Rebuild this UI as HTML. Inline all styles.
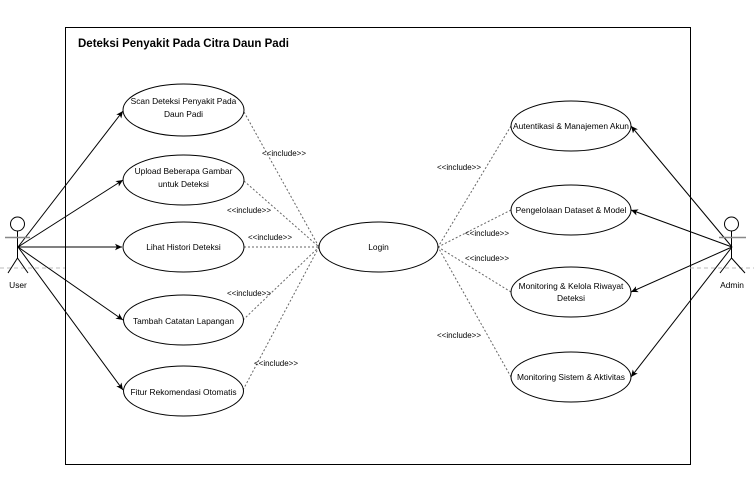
<!DOCTYPE html>
<html><head><meta charset="utf-8"><style>
html,body{margin:0;padding:0;background:#fff;}
svg{display:block;font-family:"Liberation Sans",sans-serif;}
</style></head><body>
<svg width="754" height="478" viewBox="0 0 754 478" xmlns="http://www.w3.org/2000/svg">
<defs>
<marker id="a" markerWidth="8" markerHeight="8" refX="7" refY="4" orient="auto" markerUnits="userSpaceOnUse">
<path d="M0,0.8 L7,4 L0,7.2 L1.8,4 Z" fill="#000"/></marker>
</defs>
<rect width="754" height="478" fill="#fff"/>
<rect x="65.5" y="27.5" width="625" height="437" fill="none" stroke="#000" stroke-width="1"/>
<text x="78" y="47" font-size="11.5" font-weight="bold">Deteksi Penyakit Pada Citra Daun Padi</text>
<line x1="0" y1="268" x2="65" y2="268" stroke="#bbb" stroke-dasharray="4 3"/>
<line x1="690" y1="268" x2="754" y2="268" stroke="#bbb" stroke-dasharray="4 3"/>
<g stroke="#000" fill="none">
<line x1="18" y1="247" x2="123" y2="111" marker-end="url(#a)"/>
<line x1="18" y1="247" x2="123" y2="180" marker-end="url(#a)"/>
<line x1="18" y1="247" x2="122" y2="247" marker-end="url(#a)"/>
<line x1="18" y1="247" x2="123" y2="320" marker-end="url(#a)"/>
<line x1="18" y1="247" x2="123" y2="390" marker-end="url(#a)"/>
<line x1="732" y1="247" x2="631" y2="126" marker-end="url(#a)"/>
<line x1="732" y1="247" x2="631" y2="210" marker-end="url(#a)"/>
<line x1="732" y1="247" x2="631" y2="292" marker-end="url(#a)"/>
<line x1="732" y1="247" x2="631" y2="377" marker-end="url(#a)"/>
</g>
<g stroke="#666" stroke-dasharray="2 2" fill="none">
<line x1="244" y1="112" x2="319" y2="247"/>
<line x1="244" y1="181" x2="319" y2="247"/>
<line x1="244" y1="247" x2="319" y2="247"/>
<line x1="243" y1="320" x2="319" y2="247"/>
<line x1="243" y1="390" x2="319" y2="247"/>
<line x1="511" y1="126" x2="438" y2="247"/>
<line x1="511" y1="210" x2="438" y2="247"/>
<line x1="511" y1="292" x2="438" y2="247"/>
<line x1="511" y1="377" x2="438" y2="247"/>
</g>
<g stroke="#000" fill="#fff">
<ellipse cx="183.5" cy="110" rx="60.5" ry="26"/>
<ellipse cx="183.5" cy="180" rx="60.5" ry="25"/>
<ellipse cx="183.5" cy="247" rx="60.5" ry="25"/>
<ellipse cx="183.5" cy="320" rx="60" ry="25"/>
<ellipse cx="183.5" cy="391" rx="60" ry="25"/>
<ellipse cx="378.5" cy="247" rx="59.5" ry="25"/>
<ellipse cx="571" cy="126" rx="60" ry="25"/>
<ellipse cx="571" cy="210" rx="60" ry="25"/>
<ellipse cx="571" cy="292" rx="60" ry="25"/>
<ellipse cx="571" cy="377" rx="60" ry="25"/>
</g>
<g font-size="8.4" text-anchor="middle" fill="#000">
<text x="183.5" y="104">Scan Deteksi Penyakit Pada</text>
<text x="183.5" y="117">Daun Padi</text>
<text x="183.5" y="174">Upload Beberapa Gambar</text>
<text x="183.5" y="187">untuk Deteksi</text>
<text x="183.5" y="250">Lihat Histori Deteksi</text>
<text x="183.5" y="324">Tambah Catatan Lapangan</text>
<text x="183.5" y="395">Fitur Rekomendasi Otomatis</text>
<text x="378.5" y="250">Login</text>
<text x="571" y="129">Autentikasi &amp; Manajemen Akun</text>
<text x="571" y="213">Pengelolaan Dataset &amp; Model</text>
<text x="571" y="289">Monitoring &amp; Kelola Riwayat</text>
<text x="571" y="301">Deteksi</text>
<text x="571" y="380">Monitoring Sistem &amp; Aktivitas</text>
<text x="18" y="288">User</text>
<text x="732" y="288">Admin</text>
</g>
<g font-size="8" text-anchor="middle" fill="#000">
<text x="284" y="156">&lt;&lt;include&gt;&gt;</text>
<text x="249" y="213">&lt;&lt;include&gt;&gt;</text>
<text x="270" y="240">&lt;&lt;include&gt;&gt;</text>
<text x="249" y="296">&lt;&lt;include&gt;&gt;</text>
<text x="276" y="366">&lt;&lt;include&gt;&gt;</text>
<text x="459" y="170">&lt;&lt;include&gt;&gt;</text>
<text x="487" y="236">&lt;&lt;include&gt;&gt;</text>
<text x="487" y="261">&lt;&lt;include&gt;&gt;</text>
<text x="459" y="338">&lt;&lt;include&gt;&gt;</text>
</g>
<g stroke="#000" fill="#fff" stroke-width="1">
<circle cx="17.5" cy="224" r="7"/>
<line x1="17.5" y1="231" x2="17.5" y2="258"/>
<line x1="5" y1="237.5" x2="30" y2="237.5" stroke="#888" stroke-width="1.5"/>
<line x1="17.5" y1="258" x2="8" y2="273"/>
<line x1="17.5" y1="258" x2="28" y2="273"/>
<circle cx="731.5" cy="224" r="7"/>
<line x1="731.5" y1="231" x2="731.5" y2="258"/>
<line x1="719" y1="237.5" x2="746" y2="237.5" stroke="#888" stroke-width="1.5"/>
<line x1="731.5" y1="258" x2="720" y2="273"/>
<line x1="731.5" y1="258" x2="745" y2="273"/>
</g>
</svg>
</body></html>
